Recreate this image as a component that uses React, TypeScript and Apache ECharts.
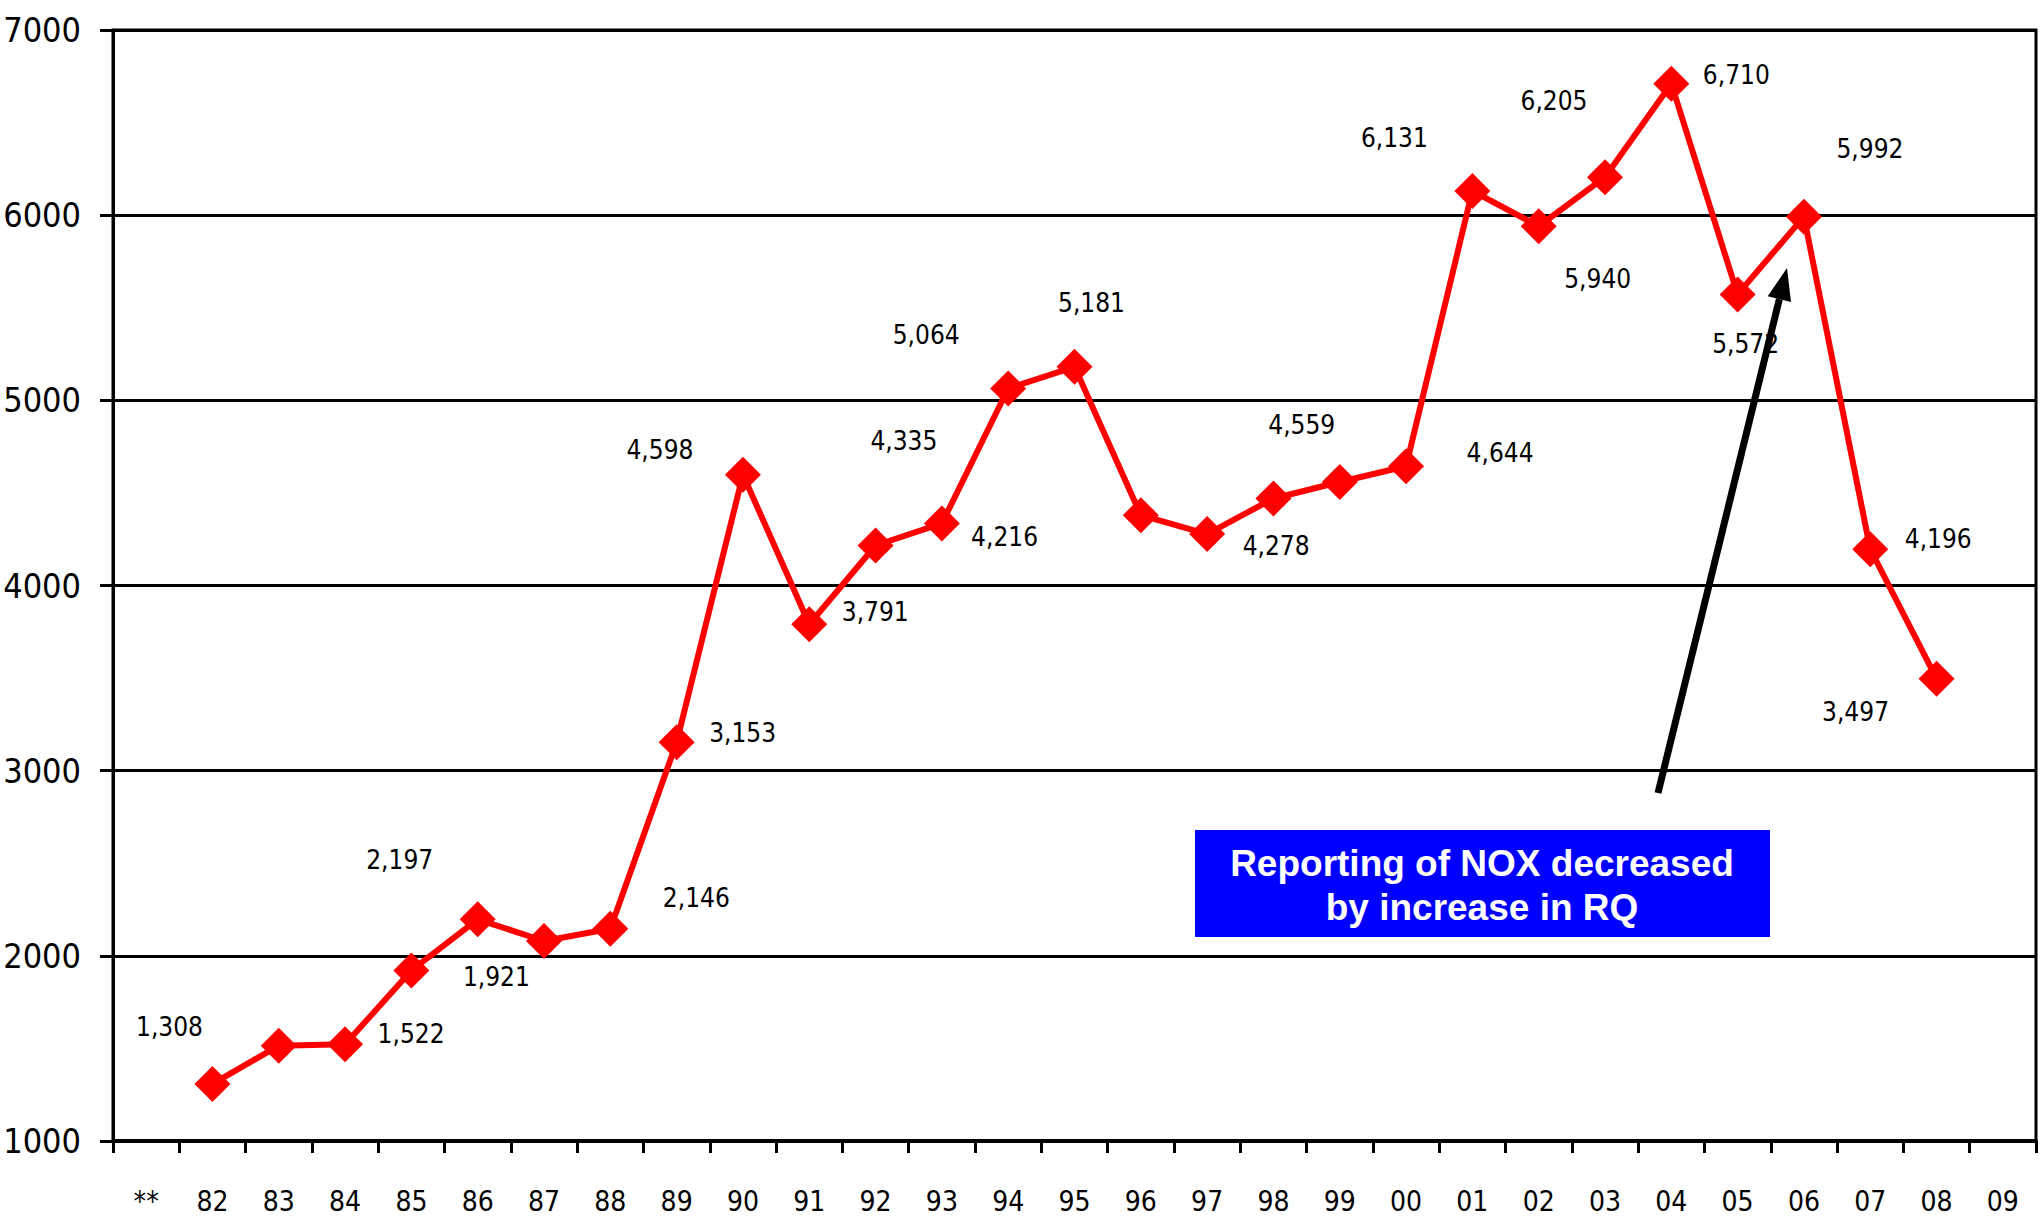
import React, { useEffect, useRef } from "react";
import * as echarts from "echarts";

const categories = ["**", "82", "83", "84", "85", "86", "87", "88", "89", "90", "91", "92", "93", "94", "95", "96", "97", "98", "99", "00", "01", "02", "03", "04", "05", "06", "07", "08", "09"];
const noxValues: (number | null)[] = [null, 1308, 1515, 1522, 1921, 2197, 2080, 2146, 3153, 4598, 3791, 4216, 4335, 5064, 5181, 4380, 4278, 4470, 4559, 4644, 6131, 5940, 6205, 6710, 5572, 5992, 4196, 3497, null];
const labelShown: boolean[] = [false, true, false, true, true, true, false, true, true, true, true, true, true, true, true, false, true, false, true, true, true, true, true, true, true, true, true, true, false];
const yTicks = { min: 1000, max: 7000, step: 1000 };
const noteLines = ["Reporting of NOX decreased", "by increase in RQ"];

// label placement (pixel offsets from each marker), style only
const labelOffsets: [number, number][] = [
  [0, 0], [-43, -57], [0, 0], [66, -10], [85, 7], [-78, -59], [0, 0], [86, -31], [66, -9], [-83, -25],
  [66, -12], [129, -9], [-38, -82], [-82, -53], [17, -64], [0, 0], [69, 12], [0, 0], [-38, -57], [94, -13],
  [-78, -53], [59, 53], [-51, -76], [65, -9], [8, 50], [66, -68], [68, -10], [-81, 33], [0, 0],
];

const fmt = (v: number) => {
  const s = String(Math.round(v));
  return s.replace(/\B(?=(\d{3})+(?!\d))/g, ",");
};

export default function App() {
  const ref = useRef<HTMLDivElement>(null);
  useEffect(() => {
    if (!ref.current) return;
    const chart = echarts.init(ref.current, null, { renderer: "svg" });
    const narrow = "'Liberation Sans Narrow', 'DejaVu Sans Condensed', sans-serif";

    const data = noxValues.map((v, i) => ({
      value: v,
      label: {
        show: v !== null && labelShown[i],
        position: "inside",
        offset: labelOffsets[i],
        color: "#000",
        fontSize: 26,
        fontFamily: narrow,
        formatter: (p: any) => fmt(p.value),
      },
    }));

    // arrow geometry (annotation)
    const tail = [1658, 793];
    const tip = [1787, 268];
    const dx = tip[0] - tail[0];
    const dy = tip[1] - tail[1];
    const len = Math.sqrt(dx * dx + dy * dy);
    const ux = dx / len, uy = dy / len;
    const headLen = 32, headHalf = 12;
    const bx = tip[0] - ux * headLen, by = tip[1] - uy * headLen;
    const px = -uy, py = ux;

    chart.setOption({
      animation: false,
      backgroundColor: "#fff",
      grid: {
        left: 113, right: 8, top: 30, bottom: 78,
        outerBoundsMode: "none",
        containLabel: false,
        show: true, borderColor: "#000", borderWidth: 3, backgroundColor: "transparent",
      },
      xAxis: {
        type: "category",
        data: categories,
        boundaryGap: true,
        axisLine: { show: true, lineStyle: { color: "#000", width: 4 } },
        axisTick: { show: true, interval: 0, length: 12, lineStyle: { color: "#000", width: 3 } },
        axisLabel: { interval: 0, color: "#000", fontSize: 28, fontFamily: narrow, margin: 46 },
        splitLine: { show: false },
      },
      yAxis: {
        type: "value",
        min: yTicks.min,
        max: yTicks.max,
        interval: yTicks.step,
        axisLine: { show: true, lineStyle: { color: "#000", width: 3 } },
        axisTick: { show: true, length: 13, lineStyle: { color: "#000", width: 3 } },
        axisLabel: { color: "#000", fontSize: 34, fontFamily: narrow, margin: 32, formatter: (v: number) => String(v) },
        splitLine: { show: true, lineStyle: { color: "#000", width: 3 } },
      },
      series: [
        {
          type: "line",
          data,
          symbol: "diamond",
          symbolSize: 36,
          connectNulls: false,
          itemStyle: { color: "#ff0000" },
          lineStyle: { color: "#ff0000", width: 6 },
          z: 5,
        },
      ],
      graphic: [
        {
          type: "line",
          shape: { x1: tail[0], y1: tail[1], x2: bx, y2: by },
          style: { stroke: "#000", lineWidth: 7 },
          z: 10,
        },
        {
          type: "polygon",
          shape: { points: [[tip[0], tip[1]], [bx + px * headHalf, by + py * headHalf], [bx - px * headHalf, by - py * headHalf]] },
          style: { fill: "#000" },
          z: 10,
        },
        {
          type: "rect",
          shape: { x: 1195, y: 830, width: 575, height: 107 },
          style: { fill: "#0000ff" },
          z: 10,
        },
        {
          type: "text",
          x: 1482,
          y: 863,
          style: { text: noteLines[0], fill: "#fff", font: "bold 37px 'Liberation Sans', Arial, sans-serif", align: "center", verticalAlign: "middle" },
          z: 11,
        },
        {
          type: "text",
          x: 1482,
          y: 907,
          style: { text: noteLines[1], fill: "#fff", font: "bold 37px 'Liberation Sans', Arial, sans-serif", align: "center", verticalAlign: "middle" },
          z: 11,
        },
      ],
    });
    return () => chart.dispose();
  }, []);
  return <div ref={ref} style={{ position: "fixed", left: 0, top: 0, width: 2044, height: 1219 }} />;
}
